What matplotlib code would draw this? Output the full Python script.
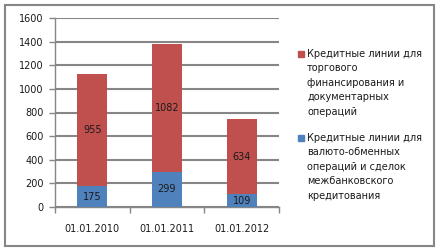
import matplotlib.pyplot as plt
from matplotlib.patches import Rectangle

dates = ["01.01.2010", "01.01.2011", "01.01.2012"]
fx_interbank = [175, 299, 109]
trade_finance = [955, 1082, 634]
series_names = ["Кредитные линии для\nторгового\nфинансирования и\nдокументарных\nопераций",
                "Кредитные линии для\nвалюто-обменных\nопераций и сделок\nмежбанковского\nкредитования"]

red = "#C0504D"
blue = "#4F81BD"
grid_c = "#868686"
txt_c = "#1a1a1a"

fig = plt.figure(figsize=(4.4, 2.5), dpi=100)
ax = fig.add_axes([55 / 440, 1 - 207 / 250, 224 / 440, 189 / 250])

x = range(len(dates))
ax.bar(x, fx_interbank, width=0.4, color=blue, zorder=3)
ax.bar(x, trade_finance, width=0.4, bottom=fx_interbank, color=red, zorder=3)

for i in x:
    ax.text(i, fx_interbank[i] / 2, str(fx_interbank[i]), ha="center", va="center",
            fontsize=7, color=txt_c, zorder=4)
    ax.text(i, fx_interbank[i] + trade_finance[i] / 2, str(trade_finance[i]),
            ha="center", va="center", fontsize=7, color=txt_c, zorder=4)

ax.set_xlim(-0.5, 2.5)
ax.set_ylim(0, 1600)
ax.set_yticks(range(0, 1601, 200))
ax.tick_params(axis="y", labelsize=7, colors=txt_c, length=4, width=1, color=grid_c, pad=4)
ax.set_xticks(list(x))
ax.set_xticklabels(dates)
ax.tick_params(axis="x", which="major", length=0, labelsize=7, colors=txt_c, pad=12)
ax.set_xticks([-0.5, 0.5, 1.5, 2.5], minor=True)
ax.tick_params(axis="x", which="minor", length=4, width=1, color=grid_c)
ax.grid(axis="y", color=grid_c, linewidth=1.5, zorder=0)
for s in ["top", "right"]:
    ax.spines[s].set_visible(False)
ax.spines["left"].set_color(grid_c)
ax.spines["bottom"].set_color(grid_c)
ax.spines["left"].set_linewidth(1)
ax.spines["bottom"].set_linewidth(1)

# legend
ys = [54, 138]
for y, name, c in zip(ys, series_names, [red, blue]):
    fig.patches.append(Rectangle((298 / 440, 1 - (y + 3) / 250), 6 / 440, 6 / 250,
                                 transform=fig.transFigure, color=c))
    fig.text(307 / 440, 1 - (y - 5) / 250, name, fontsize=7, color=txt_c,
             va="top", ha="left", linespacing=1.55)

# outer border
fig.patches.append(Rectangle((5 / 440, 4 / 250), 429 / 440, 241 / 250, transform=fig.transFigure,
                             fill=False, edgecolor=grid_c, linewidth=1.5))

fig.savefig("out.png", dpi=100)
